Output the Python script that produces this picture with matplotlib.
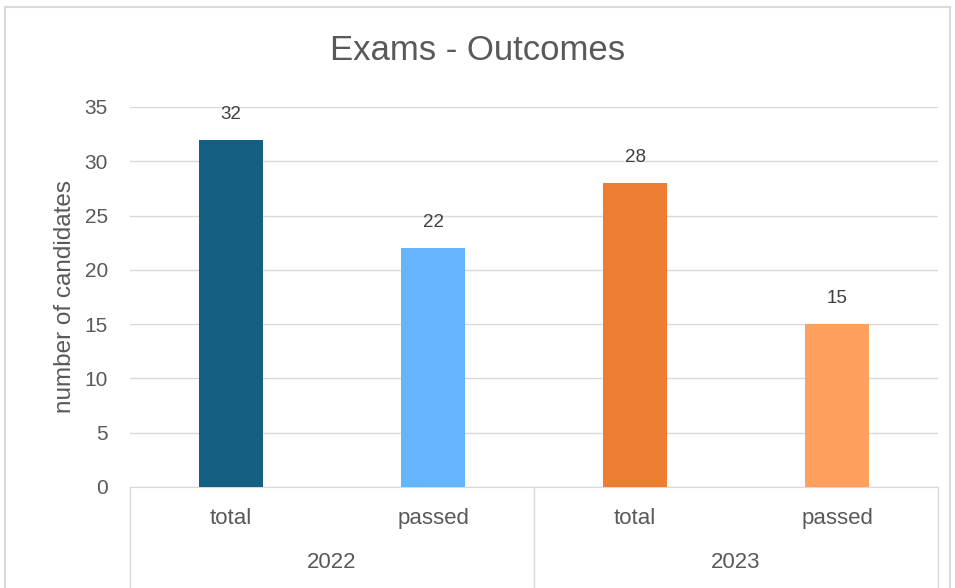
import matplotlib.pyplot as plt
from matplotlib.patches import Rectangle

# data
categories = ['total', 'passed', 'total', 'passed']
years = ['2022', '2023']
values = [32, 22, 28, 15]
colors = ['#156082', '#65B4FF', '#ED7D31', '#FFA05E']

txt = '#595959'
grid = '#D9D9D9'
font = ['Liberation Sans', 'DejaVu Sans']

fig = plt.figure(figsize=(9.55, 5.88), dpi=100)
ax = fig.add_axes([130/955, 1-487/588, 808/955, 380/588])

x = list(range(len(values)))
bars = ax.bar(x, values, width=0.317, color=colors, zorder=3)
for b, v in zip(bars, values):
    ax.annotate(str(v), (b.get_x() + b.get_width()/2, v), xytext=(0, 12),
                textcoords='offset points', ha='center', va='bottom',
                fontsize=13.5, color='#404040', family=font)

ax.set_xlim(-0.5, 3.5)
ax.set_ylim(0, 35)
ax.set_yticks(range(0, 36, 5))
ax.yaxis.grid(True, color=grid, lw=1, zorder=0)
ax.tick_params(axis='y', length=0, pad=16, labelsize=15, labelcolor=txt)
for lab in ax.get_yticklabels():
    lab.set_family(font)
ax.set_xticks([])
for s in ['top', 'right', 'left']:
    ax.spines[s].set_visible(False)
ax.spines['bottom'].set_color(grid)

ax.set_ylabel('number of candidates', fontsize=17.5, color=txt, labelpad=6,
              family=font)

# multi-level category axis
tr = ax.get_xaxis_transform()
for xv in [-0.5, 1.5, 3.5]:
    ax.plot([xv, xv], [0, -0.27], transform=tr, color=grid, lw=1, clip_on=False)
for xv, c in zip(x, categories):
    ax.text(xv, -0.082, c, transform=tr, ha='center', va='center',
            fontsize=16, color=txt, family=font)
for i, y in enumerate(years):
    ax.text(2*i + 0.5, -0.2, y, transform=tr, ha='center', va='center',
            fontsize=16, color=txt, family=font)

fig.text(0.5, 1 - 50/588, 'Exams - Outcomes', ha='center', va='center',
         fontsize=25, color=txt, family=font)

fig.patches.append(Rectangle((5/955, -0.02), 945/955, 1 - 7/588 + 0.02,
                             transform=fig.transFigure, fill=False,
                             edgecolor=grid, lw=1.5))

fig.savefig('out.png', dpi=100)
